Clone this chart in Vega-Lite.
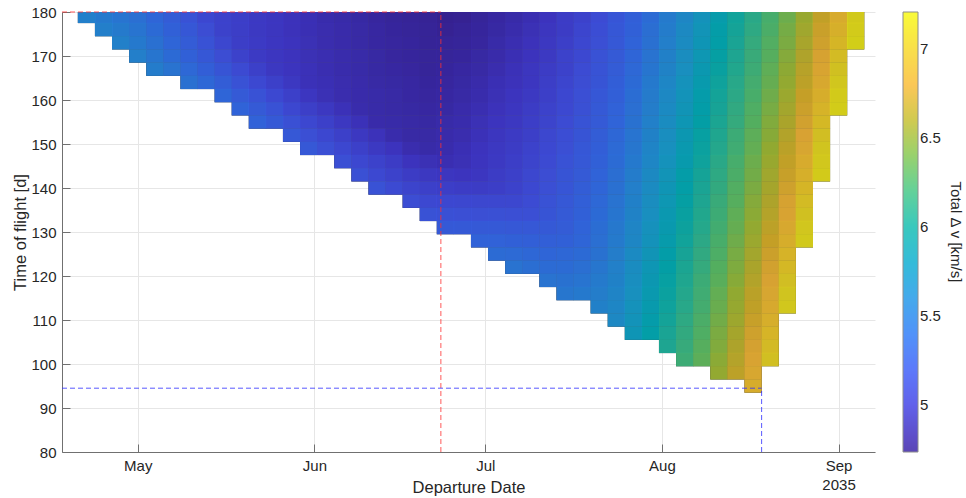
{
"$schema":"https://vega.github.io/schema/vega-lite/v6.json",
"width":813,"height":440,
"autosize":{"type":"none"},
"padding":{"left":62,"top":12,"right":91,"bottom":46},
"background":"white",
"config":{
 "font":"Liberation Sans",
 "view":{"stroke":null},
 "axis":{"labelFont":"Liberation Sans","titleFont":"Liberation Sans","labelFontSize":15,"titleFontSize":16.5,"labelColor":"#262626","titleColor":"#262626","titleFontWeight":"normal","domainColor":"#707070","tickColor":"#707070","gridColor":"#e6e6e6","tickSize":-8,"labelPadding":14},
 "legend":{"gradientLength":440,"gradientThickness":15,"offset":28,"padding":0,"labelFont":"Liberation Sans","titleFont":"Liberation Sans","labelFontSize":15,"labelColor":"#262626","labelOffset":5,"titleFontSize":15,"titleFontWeight":"normal","titleColor":"#262626","gradientStrokeColor":"#7a7a7a","gradientStrokeWidth":1}
},
"datasets":{
 "redline":[{"d":107.7,"d2":174.2,"t":180,"t2":180},{"d":174.2,"d2":174.2,"t":80,"t2":180}],
 "blueline":[{"d":107.7,"d2":230.5,"t":94.5,"t2":94.5},{"d":230.5,"d2":230.5,"t":80,"t2":94.5}],
 "cells":[
{"d":112,"t":179,"v":5.55},{"d":115,"t":179,"v":5.50},{"d":118,"t":179,"v":5.46},{"d":121,"t":179,"v":5.42},{"d":124,"t":179,"v":5.34},{"d":127,"t":179,"v":5.26},{"d":130,"t":179,"v":5.18},{"d":133,"t":179,"v":5.10},{"d":136,"t":179,"v":5.06},{"d":139,"t":179,"v":5.02},{"d":142,"t":179,"v":4.98},{"d":145,"t":179,"v":4.95},{"d":148,"t":179,"v":4.92},{"d":151,"t":179,"v":4.89},{"d":154,"t":179,"v":4.86},{"d":157,"t":179,"v":4.84},{"d":160,"t":179,"v":4.82},{"d":163,"t":179,"v":4.80},{"d":166,"t":179,"v":4.78},{"d":169,"t":179,"v":4.77},{"d":172,"t":179,"v":4.76},{"d":175,"t":179,"v":4.74},{"d":178,"t":179,"v":4.75},{"d":181,"t":179,"v":4.78},{"d":184,"t":179,"v":4.81},{"d":187,"t":179,"v":4.84},{"d":190,"t":179,"v":4.88},{"d":193,"t":179,"v":4.93},{"d":196,"t":179,"v":5.00},{"d":199,"t":179,"v":5.06},{"d":202,"t":179,"v":5.13},{"d":205,"t":179,"v":5.21},{"d":208,"t":179,"v":5.29},{"d":211,"t":179,"v":5.39},{"d":214,"t":179,"v":5.51},{"d":217,"t":179,"v":5.63},{"d":220,"t":179,"v":5.75},{"d":223,"t":179,"v":5.87},{"d":226,"t":179,"v":5.99},{"d":229,"t":179,"v":6.11},{"d":232,"t":179,"v":6.24},{"d":235,"t":179,"v":6.38},{"d":238,"t":179,"v":6.53},{"d":241,"t":179,"v":6.69},{"d":244,"t":179,"v":6.89},{"d":247,"t":179,"v":7.11},
{"d":115,"t":176,"v":5.55},{"d":118,"t":176,"v":5.51},{"d":121,"t":176,"v":5.46},{"d":124,"t":176,"v":5.38},{"d":127,"t":176,"v":5.30},{"d":130,"t":176,"v":5.22},{"d":133,"t":176,"v":5.14},{"d":136,"t":176,"v":5.06},{"d":139,"t":176,"v":5.02},{"d":142,"t":176,"v":4.98},{"d":145,"t":176,"v":4.95},{"d":148,"t":176,"v":4.92},{"d":151,"t":176,"v":4.89},{"d":154,"t":176,"v":4.87},{"d":157,"t":176,"v":4.85},{"d":160,"t":176,"v":4.83},{"d":163,"t":176,"v":4.81},{"d":166,"t":176,"v":4.79},{"d":169,"t":176,"v":4.78},{"d":172,"t":176,"v":4.77},{"d":175,"t":176,"v":4.75},{"d":178,"t":176,"v":4.77},{"d":181,"t":176,"v":4.79},{"d":184,"t":176,"v":4.82},{"d":187,"t":176,"v":4.86},{"d":190,"t":176,"v":4.90},{"d":193,"t":176,"v":4.95},{"d":196,"t":176,"v":5.01},{"d":199,"t":176,"v":5.08},{"d":202,"t":176,"v":5.15},{"d":205,"t":176,"v":5.22},{"d":208,"t":176,"v":5.30},{"d":211,"t":176,"v":5.41},{"d":214,"t":176,"v":5.53},{"d":217,"t":176,"v":5.65},{"d":220,"t":176,"v":5.77},{"d":223,"t":176,"v":5.89},{"d":226,"t":176,"v":6.01},{"d":229,"t":176,"v":6.13},{"d":232,"t":176,"v":6.26},{"d":235,"t":176,"v":6.41},{"d":238,"t":176,"v":6.56},{"d":241,"t":176,"v":6.73},{"d":244,"t":176,"v":6.93},{"d":247,"t":176,"v":7.13},
{"d":118,"t":173,"v":5.56},{"d":121,"t":173,"v":5.50},{"d":124,"t":173,"v":5.43},{"d":127,"t":173,"v":5.34},{"d":130,"t":173,"v":5.26},{"d":133,"t":173,"v":5.18},{"d":136,"t":173,"v":5.09},{"d":139,"t":173,"v":5.02},{"d":142,"t":173,"v":4.99},{"d":145,"t":173,"v":4.96},{"d":148,"t":173,"v":4.93},{"d":151,"t":173,"v":4.90},{"d":154,"t":173,"v":4.87},{"d":157,"t":173,"v":4.85},{"d":160,"t":173,"v":4.83},{"d":163,"t":173,"v":4.81},{"d":166,"t":173,"v":4.80},{"d":169,"t":173,"v":4.79},{"d":172,"t":173,"v":4.77},{"d":175,"t":173,"v":4.77},{"d":178,"t":173,"v":4.78},{"d":181,"t":173,"v":4.80},{"d":184,"t":173,"v":4.84},{"d":187,"t":173,"v":4.88},{"d":190,"t":173,"v":4.92},{"d":193,"t":173,"v":4.97},{"d":196,"t":173,"v":5.03},{"d":199,"t":173,"v":5.10},{"d":202,"t":173,"v":5.16},{"d":205,"t":173,"v":5.23},{"d":208,"t":173,"v":5.32},{"d":211,"t":173,"v":5.43},{"d":214,"t":173,"v":5.55},{"d":217,"t":173,"v":5.67},{"d":220,"t":173,"v":5.79},{"d":223,"t":173,"v":5.91},{"d":226,"t":173,"v":6.03},{"d":229,"t":173,"v":6.16},{"d":232,"t":173,"v":6.29},{"d":235,"t":173,"v":6.43},{"d":238,"t":173,"v":6.59},{"d":241,"t":173,"v":6.76},{"d":244,"t":173,"v":6.97},{"d":247,"t":173,"v":7.15},
{"d":121,"t":170,"v":5.55},{"d":124,"t":170,"v":5.47},{"d":127,"t":170,"v":5.38},{"d":130,"t":170,"v":5.30},{"d":133,"t":170,"v":5.22},{"d":136,"t":170,"v":5.14},{"d":139,"t":170,"v":5.05},{"d":142,"t":170,"v":4.99},{"d":145,"t":170,"v":4.96},{"d":148,"t":170,"v":4.93},{"d":151,"t":170,"v":4.90},{"d":154,"t":170,"v":4.88},{"d":157,"t":170,"v":4.86},{"d":160,"t":170,"v":4.84},{"d":163,"t":170,"v":4.82},{"d":166,"t":170,"v":4.80},{"d":169,"t":170,"v":4.79},{"d":172,"t":170,"v":4.78},{"d":175,"t":170,"v":4.78},{"d":178,"t":170,"v":4.79},{"d":181,"t":170,"v":4.82},{"d":184,"t":170,"v":4.85},{"d":187,"t":170,"v":4.89},{"d":190,"t":170,"v":4.93},{"d":193,"t":170,"v":4.98},{"d":196,"t":170,"v":5.05},{"d":199,"t":170,"v":5.11},{"d":202,"t":170,"v":5.18},{"d":205,"t":170,"v":5.25},{"d":208,"t":170,"v":5.34},{"d":211,"t":170,"v":5.45},{"d":214,"t":170,"v":5.57},{"d":217,"t":170,"v":5.69},{"d":220,"t":170,"v":5.81},{"d":223,"t":170,"v":5.93},{"d":226,"t":170,"v":6.05},{"d":229,"t":170,"v":6.18},{"d":232,"t":170,"v":6.31},{"d":235,"t":170,"v":6.46},{"d":238,"t":170,"v":6.62},{"d":241,"t":170,"v":6.80},{"d":244,"t":170,"v":7.01},
{"d":124,"t":167,"v":5.53},{"d":127,"t":167,"v":5.45},{"d":130,"t":167,"v":5.36},{"d":133,"t":167,"v":5.28},{"d":136,"t":167,"v":5.20},{"d":139,"t":167,"v":5.12},{"d":142,"t":167,"v":5.04},{"d":145,"t":167,"v":4.97},{"d":148,"t":167,"v":4.94},{"d":151,"t":167,"v":4.91},{"d":154,"t":167,"v":4.88},{"d":157,"t":167,"v":4.86},{"d":160,"t":167,"v":4.84},{"d":163,"t":167,"v":4.82},{"d":166,"t":167,"v":4.81},{"d":169,"t":167,"v":4.80},{"d":172,"t":167,"v":4.78},{"d":175,"t":167,"v":4.79},{"d":178,"t":167,"v":4.81},{"d":181,"t":167,"v":4.83},{"d":184,"t":167,"v":4.87},{"d":187,"t":167,"v":4.91},{"d":190,"t":167,"v":4.95},{"d":193,"t":167,"v":5.00},{"d":196,"t":167,"v":5.06},{"d":199,"t":167,"v":5.13},{"d":202,"t":167,"v":5.19},{"d":205,"t":167,"v":5.26},{"d":208,"t":167,"v":5.36},{"d":211,"t":167,"v":5.47},{"d":214,"t":167,"v":5.59},{"d":217,"t":167,"v":5.71},{"d":220,"t":167,"v":5.83},{"d":223,"t":167,"v":5.95},{"d":226,"t":167,"v":6.07},{"d":229,"t":167,"v":6.20},{"d":232,"t":167,"v":6.34},{"d":235,"t":167,"v":6.49},{"d":238,"t":167,"v":6.65},{"d":241,"t":167,"v":6.84},{"d":244,"t":167,"v":7.05},
{"d":130,"t":164,"v":5.43},{"d":133,"t":164,"v":5.35},{"d":136,"t":164,"v":5.27},{"d":139,"t":164,"v":5.18},{"d":142,"t":164,"v":5.11},{"d":145,"t":164,"v":5.04},{"d":148,"t":164,"v":4.97},{"d":151,"t":164,"v":4.91},{"d":154,"t":164,"v":4.89},{"d":157,"t":164,"v":4.87},{"d":160,"t":164,"v":4.85},{"d":163,"t":164,"v":4.83},{"d":166,"t":164,"v":4.82},{"d":169,"t":164,"v":4.81},{"d":172,"t":164,"v":4.79},{"d":175,"t":164,"v":4.80},{"d":178,"t":164,"v":4.82},{"d":181,"t":164,"v":4.85},{"d":184,"t":164,"v":4.89},{"d":187,"t":164,"v":4.92},{"d":190,"t":164,"v":4.96},{"d":193,"t":164,"v":5.02},{"d":196,"t":164,"v":5.08},{"d":199,"t":164,"v":5.14},{"d":202,"t":164,"v":5.20},{"d":205,"t":164,"v":5.28},{"d":208,"t":164,"v":5.38},{"d":211,"t":164,"v":5.50},{"d":214,"t":164,"v":5.62},{"d":217,"t":164,"v":5.74},{"d":220,"t":164,"v":5.86},{"d":223,"t":164,"v":5.98},{"d":226,"t":164,"v":6.10},{"d":229,"t":164,"v":6.23},{"d":232,"t":164,"v":6.36},{"d":235,"t":164,"v":6.51},{"d":238,"t":164,"v":6.67},{"d":241,"t":164,"v":6.87},{"d":244,"t":164,"v":7.09},
{"d":136,"t":161,"v":5.34},{"d":139,"t":161,"v":5.25},{"d":142,"t":161,"v":5.18},{"d":145,"t":161,"v":5.11},{"d":148,"t":161,"v":5.04},{"d":151,"t":161,"v":4.96},{"d":154,"t":161,"v":4.90},{"d":157,"t":161,"v":4.87},{"d":160,"t":161,"v":4.85},{"d":163,"t":161,"v":4.84},{"d":166,"t":161,"v":4.83},{"d":169,"t":161,"v":4.81},{"d":172,"t":161,"v":4.80},{"d":175,"t":161,"v":4.81},{"d":178,"t":161,"v":4.83},{"d":181,"t":161,"v":4.86},{"d":184,"t":161,"v":4.90},{"d":187,"t":161,"v":4.94},{"d":190,"t":161,"v":4.98},{"d":193,"t":161,"v":5.03},{"d":196,"t":161,"v":5.10},{"d":199,"t":161,"v":5.16},{"d":202,"t":161,"v":5.22},{"d":205,"t":161,"v":5.29},{"d":208,"t":161,"v":5.40},{"d":211,"t":161,"v":5.52},{"d":214,"t":161,"v":5.64},{"d":217,"t":161,"v":5.76},{"d":220,"t":161,"v":5.88},{"d":223,"t":161,"v":6.00},{"d":226,"t":161,"v":6.12},{"d":229,"t":161,"v":6.25},{"d":232,"t":161,"v":6.39},{"d":235,"t":161,"v":6.54},{"d":238,"t":161,"v":6.71},{"d":241,"t":161,"v":6.91},{"d":244,"t":161,"v":7.12},
{"d":139,"t":158,"v":5.32},{"d":142,"t":158,"v":5.25},{"d":145,"t":158,"v":5.18},{"d":148,"t":158,"v":5.10},{"d":151,"t":158,"v":5.03},{"d":154,"t":158,"v":4.97},{"d":157,"t":158,"v":4.91},{"d":160,"t":158,"v":4.86},{"d":163,"t":158,"v":4.84},{"d":166,"t":158,"v":4.83},{"d":169,"t":158,"v":4.82},{"d":172,"t":158,"v":4.81},{"d":175,"t":158,"v":4.82},{"d":178,"t":158,"v":4.85},{"d":181,"t":158,"v":4.88},{"d":184,"t":158,"v":4.92},{"d":187,"t":158,"v":4.96},{"d":190,"t":158,"v":5.00},{"d":193,"t":158,"v":5.05},{"d":196,"t":158,"v":5.11},{"d":199,"t":158,"v":5.17},{"d":202,"t":158,"v":5.24},{"d":205,"t":158,"v":5.31},{"d":208,"t":158,"v":5.42},{"d":211,"t":158,"v":5.54},{"d":214,"t":158,"v":5.66},{"d":217,"t":158,"v":5.78},{"d":220,"t":158,"v":5.90},{"d":223,"t":158,"v":6.02},{"d":226,"t":158,"v":6.14},{"d":229,"t":158,"v":6.28},{"d":232,"t":158,"v":6.42},{"d":235,"t":158,"v":6.57},{"d":238,"t":158,"v":6.74},{"d":241,"t":158,"v":6.95},{"d":244,"t":158,"v":7.14},
{"d":142,"t":155,"v":5.31},{"d":145,"t":155,"v":5.24},{"d":148,"t":155,"v":5.17},{"d":151,"t":155,"v":5.10},{"d":154,"t":155,"v":5.04},{"d":157,"t":155,"v":4.97},{"d":160,"t":155,"v":4.91},{"d":163,"t":155,"v":4.85},{"d":166,"t":155,"v":4.84},{"d":169,"t":155,"v":4.83},{"d":172,"t":155,"v":4.82},{"d":175,"t":155,"v":4.84},{"d":178,"t":155,"v":4.86},{"d":181,"t":155,"v":4.90},{"d":184,"t":155,"v":4.94},{"d":187,"t":155,"v":4.97},{"d":190,"t":155,"v":5.02},{"d":193,"t":155,"v":5.07},{"d":196,"t":155,"v":5.13},{"d":199,"t":155,"v":5.19},{"d":202,"t":155,"v":5.25},{"d":205,"t":155,"v":5.33},{"d":208,"t":155,"v":5.44},{"d":211,"t":155,"v":5.56},{"d":214,"t":155,"v":5.68},{"d":217,"t":155,"v":5.80},{"d":220,"t":155,"v":5.92},{"d":223,"t":155,"v":6.04},{"d":226,"t":155,"v":6.16},{"d":229,"t":155,"v":6.30},{"d":232,"t":155,"v":6.45},{"d":235,"t":155,"v":6.60},{"d":238,"t":155,"v":6.78},{"d":241,"t":155,"v":6.99},
{"d":148,"t":152,"v":5.23},{"d":151,"t":152,"v":5.16},{"d":154,"t":152,"v":5.10},{"d":157,"t":152,"v":5.04},{"d":160,"t":152,"v":4.97},{"d":163,"t":152,"v":4.92},{"d":166,"t":152,"v":4.86},{"d":169,"t":152,"v":4.83},{"d":172,"t":152,"v":4.83},{"d":175,"t":152,"v":4.85},{"d":178,"t":152,"v":4.87},{"d":181,"t":152,"v":4.91},{"d":184,"t":152,"v":4.95},{"d":187,"t":152,"v":4.99},{"d":190,"t":152,"v":5.03},{"d":193,"t":152,"v":5.09},{"d":196,"t":152,"v":5.15},{"d":199,"t":152,"v":5.20},{"d":202,"t":152,"v":5.27},{"d":205,"t":152,"v":5.35},{"d":208,"t":152,"v":5.46},{"d":211,"t":152,"v":5.58},{"d":214,"t":152,"v":5.70},{"d":217,"t":152,"v":5.82},{"d":220,"t":152,"v":5.94},{"d":223,"t":152,"v":6.06},{"d":226,"t":152,"v":6.19},{"d":229,"t":152,"v":6.33},{"d":232,"t":152,"v":6.47},{"d":235,"t":152,"v":6.63},{"d":238,"t":152,"v":6.82},{"d":241,"t":152,"v":7.03},
{"d":151,"t":149,"v":5.23},{"d":154,"t":149,"v":5.16},{"d":157,"t":149,"v":5.10},{"d":160,"t":149,"v":5.04},{"d":163,"t":149,"v":4.98},{"d":166,"t":149,"v":4.93},{"d":169,"t":149,"v":4.87},{"d":172,"t":149,"v":4.84},{"d":175,"t":149,"v":4.86},{"d":178,"t":149,"v":4.89},{"d":181,"t":149,"v":4.93},{"d":184,"t":149,"v":4.97},{"d":187,"t":149,"v":5.01},{"d":190,"t":149,"v":5.05},{"d":193,"t":149,"v":5.11},{"d":196,"t":149,"v":5.16},{"d":199,"t":149,"v":5.22},{"d":202,"t":149,"v":5.28},{"d":205,"t":149,"v":5.37},{"d":208,"t":149,"v":5.48},{"d":211,"t":149,"v":5.60},{"d":214,"t":149,"v":5.72},{"d":217,"t":149,"v":5.84},{"d":220,"t":149,"v":5.96},{"d":223,"t":149,"v":6.08},{"d":226,"t":149,"v":6.21},{"d":229,"t":149,"v":6.35},{"d":232,"t":149,"v":6.50},{"d":235,"t":149,"v":6.66},{"d":238,"t":149,"v":6.85},{"d":241,"t":149,"v":7.07},
{"d":157,"t":146,"v":5.16},{"d":160,"t":146,"v":5.10},{"d":163,"t":146,"v":5.05},{"d":166,"t":146,"v":5.00},{"d":169,"t":146,"v":4.93},{"d":172,"t":146,"v":4.90},{"d":175,"t":146,"v":4.88},{"d":178,"t":146,"v":4.90},{"d":181,"t":146,"v":4.94},{"d":184,"t":146,"v":4.98},{"d":187,"t":146,"v":5.02},{"d":190,"t":146,"v":5.07},{"d":193,"t":146,"v":5.12},{"d":196,"t":146,"v":5.18},{"d":199,"t":146,"v":5.23},{"d":202,"t":146,"v":5.30},{"d":205,"t":146,"v":5.39},{"d":208,"t":146,"v":5.50},{"d":211,"t":146,"v":5.62},{"d":214,"t":146,"v":5.74},{"d":217,"t":146,"v":5.86},{"d":220,"t":146,"v":5.98},{"d":223,"t":146,"v":6.11},{"d":226,"t":146,"v":6.24},{"d":229,"t":146,"v":6.38},{"d":232,"t":146,"v":6.53},{"d":235,"t":146,"v":6.69},{"d":238,"t":146,"v":6.89},{"d":241,"t":146,"v":7.10},
{"d":160,"t":143,"v":5.17},{"d":163,"t":143,"v":5.11},{"d":166,"t":143,"v":5.06},{"d":169,"t":143,"v":5.00},{"d":172,"t":143,"v":4.97},{"d":175,"t":143,"v":4.95},{"d":178,"t":143,"v":4.94},{"d":181,"t":143,"v":4.96},{"d":184,"t":143,"v":5.00},{"d":187,"t":143,"v":5.04},{"d":190,"t":143,"v":5.09},{"d":193,"t":143,"v":5.14},{"d":196,"t":143,"v":5.20},{"d":199,"t":143,"v":5.25},{"d":202,"t":143,"v":5.32},{"d":205,"t":143,"v":5.41},{"d":208,"t":143,"v":5.53},{"d":211,"t":143,"v":5.65},{"d":214,"t":143,"v":5.77},{"d":217,"t":143,"v":5.89},{"d":220,"t":143,"v":6.01},{"d":223,"t":143,"v":6.13},{"d":226,"t":143,"v":6.26},{"d":229,"t":143,"v":6.40},{"d":232,"t":143,"v":6.56},{"d":235,"t":143,"v":6.72},{"d":238,"t":143,"v":6.93},{"d":241,"t":143,"v":7.12},
{"d":163,"t":140,"v":5.18},{"d":166,"t":140,"v":5.12},{"d":169,"t":140,"v":5.07},{"d":172,"t":140,"v":5.04},{"d":175,"t":140,"v":5.02},{"d":178,"t":140,"v":5.01},{"d":181,"t":140,"v":5.01},{"d":184,"t":140,"v":5.02},{"d":187,"t":140,"v":5.06},{"d":190,"t":140,"v":5.11},{"d":193,"t":140,"v":5.16},{"d":196,"t":140,"v":5.21},{"d":199,"t":140,"v":5.27},{"d":202,"t":140,"v":5.34},{"d":205,"t":140,"v":5.43},{"d":208,"t":140,"v":5.55},{"d":211,"t":140,"v":5.67},{"d":214,"t":140,"v":5.79},{"d":217,"t":140,"v":5.91},{"d":220,"t":140,"v":6.03},{"d":223,"t":140,"v":6.15},{"d":226,"t":140,"v":6.29},{"d":229,"t":140,"v":6.43},{"d":232,"t":140,"v":6.58},{"d":235,"t":140,"v":6.76},{"d":238,"t":140,"v":6.97},
{"d":169,"t":137,"v":5.14},{"d":172,"t":137,"v":5.11},{"d":175,"t":137,"v":5.10},{"d":178,"t":137,"v":5.09},{"d":181,"t":137,"v":5.09},{"d":184,"t":137,"v":5.09},{"d":187,"t":137,"v":5.09},{"d":190,"t":137,"v":5.13},{"d":193,"t":137,"v":5.18},{"d":196,"t":137,"v":5.23},{"d":199,"t":137,"v":5.29},{"d":202,"t":137,"v":5.36},{"d":205,"t":137,"v":5.45},{"d":208,"t":137,"v":5.57},{"d":211,"t":137,"v":5.69},{"d":214,"t":137,"v":5.81},{"d":217,"t":137,"v":5.93},{"d":220,"t":137,"v":6.05},{"d":223,"t":137,"v":6.18},{"d":226,"t":137,"v":6.31},{"d":229,"t":137,"v":6.46},{"d":232,"t":137,"v":6.61},{"d":235,"t":137,"v":6.80},{"d":238,"t":137,"v":7.01},
{"d":172,"t":134,"v":5.18},{"d":175,"t":134,"v":5.17},{"d":178,"t":134,"v":5.16},{"d":181,"t":134,"v":5.16},{"d":184,"t":134,"v":5.17},{"d":187,"t":134,"v":5.16},{"d":190,"t":134,"v":5.16},{"d":193,"t":134,"v":5.20},{"d":196,"t":134,"v":5.25},{"d":199,"t":134,"v":5.30},{"d":202,"t":134,"v":5.38},{"d":205,"t":134,"v":5.47},{"d":208,"t":134,"v":5.59},{"d":211,"t":134,"v":5.71},{"d":214,"t":134,"v":5.83},{"d":217,"t":134,"v":5.95},{"d":220,"t":134,"v":6.07},{"d":223,"t":134,"v":6.20},{"d":226,"t":134,"v":6.34},{"d":229,"t":134,"v":6.48},{"d":232,"t":134,"v":6.64},{"d":235,"t":134,"v":6.83},{"d":238,"t":134,"v":7.05},
{"d":175,"t":131,"v":5.24},{"d":178,"t":131,"v":5.24},{"d":181,"t":131,"v":5.24},{"d":184,"t":131,"v":5.24},{"d":187,"t":131,"v":5.23},{"d":190,"t":131,"v":5.23},{"d":193,"t":131,"v":5.24},{"d":196,"t":131,"v":5.26},{"d":199,"t":131,"v":5.32},{"d":202,"t":131,"v":5.40},{"d":205,"t":131,"v":5.49},{"d":208,"t":131,"v":5.61},{"d":211,"t":131,"v":5.73},{"d":214,"t":131,"v":5.85},{"d":217,"t":131,"v":5.97},{"d":220,"t":131,"v":6.09},{"d":223,"t":131,"v":6.22},{"d":226,"t":131,"v":6.36},{"d":229,"t":131,"v":6.51},{"d":232,"t":131,"v":6.67},{"d":235,"t":131,"v":6.87},{"d":238,"t":131,"v":7.09},
{"d":181,"t":128,"v":5.31},{"d":184,"t":128,"v":5.31},{"d":187,"t":128,"v":5.30},{"d":190,"t":128,"v":5.29},{"d":193,"t":128,"v":5.29},{"d":196,"t":128,"v":5.30},{"d":199,"t":128,"v":5.34},{"d":202,"t":128,"v":5.42},{"d":205,"t":128,"v":5.51},{"d":208,"t":128,"v":5.63},{"d":211,"t":128,"v":5.75},{"d":214,"t":128,"v":5.87},{"d":217,"t":128,"v":5.99},{"d":220,"t":128,"v":6.12},{"d":223,"t":128,"v":6.25},{"d":226,"t":128,"v":6.39},{"d":229,"t":128,"v":6.54},{"d":232,"t":128,"v":6.70},{"d":235,"t":128,"v":6.91},{"d":238,"t":128,"v":7.11},
{"d":184,"t":125,"v":5.39},{"d":187,"t":125,"v":5.37},{"d":190,"t":125,"v":5.35},{"d":193,"t":125,"v":5.34},{"d":196,"t":125,"v":5.35},{"d":199,"t":125,"v":5.38},{"d":202,"t":125,"v":5.44},{"d":205,"t":125,"v":5.54},{"d":208,"t":125,"v":5.66},{"d":211,"t":125,"v":5.78},{"d":214,"t":125,"v":5.90},{"d":217,"t":125,"v":6.02},{"d":220,"t":125,"v":6.14},{"d":223,"t":125,"v":6.27},{"d":226,"t":125,"v":6.42},{"d":229,"t":125,"v":6.57},{"d":232,"t":125,"v":6.74},{"d":235,"t":125,"v":6.95},
{"d":187,"t":122,"v":5.45},{"d":190,"t":122,"v":5.41},{"d":193,"t":122,"v":5.39},{"d":196,"t":122,"v":5.39},{"d":199,"t":122,"v":5.42},{"d":202,"t":122,"v":5.48},{"d":205,"t":122,"v":5.56},{"d":208,"t":122,"v":5.68},{"d":211,"t":122,"v":5.80},{"d":214,"t":122,"v":5.92},{"d":217,"t":122,"v":6.04},{"d":220,"t":122,"v":6.16},{"d":223,"t":122,"v":6.30},{"d":226,"t":122,"v":6.44},{"d":229,"t":122,"v":6.60},{"d":232,"t":122,"v":6.78},{"d":235,"t":122,"v":6.99},
{"d":193,"t":119,"v":5.45},{"d":196,"t":119,"v":5.44},{"d":199,"t":119,"v":5.46},{"d":202,"t":119,"v":5.51},{"d":205,"t":119,"v":5.58},{"d":208,"t":119,"v":5.70},{"d":211,"t":119,"v":5.82},{"d":214,"t":119,"v":5.94},{"d":217,"t":119,"v":6.06},{"d":220,"t":119,"v":6.19},{"d":223,"t":119,"v":6.32},{"d":226,"t":119,"v":6.47},{"d":229,"t":119,"v":6.63},{"d":232,"t":119,"v":6.81},{"d":235,"t":119,"v":7.03},
{"d":196,"t":116,"v":5.48},{"d":199,"t":116,"v":5.50},{"d":202,"t":116,"v":5.54},{"d":205,"t":116,"v":5.60},{"d":208,"t":116,"v":5.72},{"d":211,"t":116,"v":5.84},{"d":214,"t":116,"v":5.96},{"d":217,"t":116,"v":6.08},{"d":220,"t":116,"v":6.21},{"d":223,"t":116,"v":6.35},{"d":226,"t":116,"v":6.50},{"d":229,"t":116,"v":6.66},{"d":232,"t":116,"v":6.85},{"d":235,"t":116,"v":7.07},
{"d":202,"t":113,"v":5.57},{"d":205,"t":113,"v":5.62},{"d":208,"t":113,"v":5.74},{"d":211,"t":113,"v":5.86},{"d":214,"t":113,"v":5.98},{"d":217,"t":113,"v":6.10},{"d":220,"t":113,"v":6.23},{"d":223,"t":113,"v":6.37},{"d":226,"t":113,"v":6.52},{"d":229,"t":113,"v":6.68},{"d":232,"t":113,"v":6.88},{"d":235,"t":113,"v":7.10},
{"d":205,"t":110,"v":5.64},{"d":208,"t":110,"v":5.76},{"d":211,"t":110,"v":5.88},{"d":214,"t":110,"v":6.00},{"d":217,"t":110,"v":6.13},{"d":220,"t":110,"v":6.26},{"d":223,"t":110,"v":6.40},{"d":226,"t":110,"v":6.55},{"d":229,"t":110,"v":6.72},{"d":232,"t":110,"v":6.92},
{"d":208,"t":107,"v":5.79},{"d":211,"t":107,"v":5.91},{"d":214,"t":107,"v":6.03},{"d":217,"t":107,"v":6.15},{"d":220,"t":107,"v":6.28},{"d":223,"t":107,"v":6.43},{"d":226,"t":107,"v":6.58},{"d":229,"t":107,"v":6.76},{"d":232,"t":107,"v":6.96},
{"d":214,"t":104,"v":6.05},{"d":217,"t":104,"v":6.17},{"d":220,"t":104,"v":6.31},{"d":223,"t":104,"v":6.45},{"d":226,"t":104,"v":6.61},{"d":229,"t":104,"v":6.79},{"d":232,"t":104,"v":7.00},
{"d":217,"t":101,"v":6.20},{"d":220,"t":101,"v":6.33},{"d":223,"t":101,"v":6.48},{"d":226,"t":101,"v":6.64},{"d":229,"t":101,"v":6.83},{"d":232,"t":101,"v":7.04},
{"d":223,"t":98,"v":6.51},{"d":226,"t":98,"v":6.67},{"d":229,"t":98,"v":6.86},
{"d":229,"t":95,"v":6.90}
 ]
},
"encoding":{
 "x":{"field":"d","type":"quantitative","scale":{"domain":[107.7,250.4],"nice":false,"zero":false},
  "axis":{"title":"Departure Date","values":[121,152,182,213,244],"labelExpr":"datum.value == 121 ? 'May' : datum.value == 152 ? 'Jun' : datum.value == 182 ? 'Jul' : datum.value == 213 ? 'Aug' : ['Sep','2035']","labelFlush":false,"labelOverlap":false,"labelLineHeight":19,"titleY":35,"titleBaseline":"middle"}},
 "y":{"field":"t","type":"quantitative","scale":{"domain":[80,180],"nice":false,"zero":false},
  "axis":{"title":"Time of flight [d]","values":[80,90,100,110,120,130,140,150,160,170,180],"labelFlush":false,"labelOverlap":false,"titleX":-42,"titleY":220,"titleBaseline":"middle"}}
},
"layer":[
 {"data":{"name":"cells"},"mark":{"type":"point","shape":"M-1,-0.772H1V0.772H-1Z","size":300,"filled":true,"color":"black","opacity":1,"strokeWidth":0,"clip":true}},
 {"data":{"name":"cells"},"mark":{"type":"point","shape":"M-1,-0.772H1V0.772H-1Z","size":300,"filled":true,"opacity":0.85,"strokeWidth":0,"clip":true},
  "encoding":{"color":{"field":"v","type":"quantitative",
   "scale":{"domain":[4.735,4.931,5.128,5.324,5.521,5.717,5.914,6.110,6.306,6.503,6.699,6.817,6.935,7.053,7.21],
            "range":["#3e26a8","#463cde","#4758f8","#3875fe","#2b91ef","#1ca9df","#02bac3","#31c69f","#64cd6f","#abc739","#e6bb2d","#febe3c","#fccf30","#f5e327","#f9fb15"],"interpolate":"rgb"},
   "legend":{"title":"Total Δ v [km/s]","values":[5,5.5,6,6.5,7],"format":".1~f","titleOrient":"right","titleAngle":270,"titleAnchor":"middle","titleBaseline":"top","titlePadding":22}}}},
 {"data":{"name":"redline"},"mark":{"type":"rule","color":"#ff3030","strokeDash":[5,3],"strokeWidth":1,"opacity":0.8},"encoding":{"x2":{"field":"d2"},"y2":{"field":"t2"}}},
 {"data":{"name":"blueline"},"mark":{"type":"rule","color":"#3030ff","strokeDash":[5,3],"strokeWidth":1,"opacity":0.8},"encoding":{"x2":{"field":"d2"},"y2":{"field":"t2"}}}
]
}
